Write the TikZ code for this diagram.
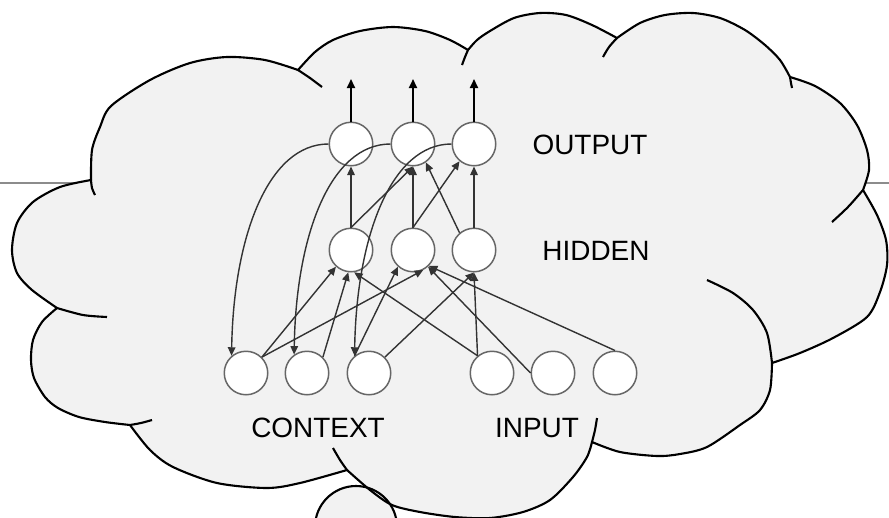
\documentclass[tikz,border=0pt]{standalone}
\usepackage{fontspec}
\setmainfont{Liberation Sans}
\usetikzlibrary{arrows.meta}
\definecolor{cloudfill}{HTML}{F2F2F2}
\definecolor{rulegray}{HTML}{8C8C8C}
\definecolor{ringgray}{HTML}{666666}
\definecolor{wiregray}{HTML}{333333}

\begin{document}
\begin{tikzpicture}[x=0.2mm, y=-0.2mm,
		neuron/.style={circle, draw=ringgray, fill=white, line width=0.85pt,
			minimum size=8.7mm, inner sep=0pt},
		wire/.style={wiregray, line width=0.8pt,
			-{Triangle[length=1.7mm,width=1.5mm]}},
		outwire/.style={black, line width=1.15pt,
			-{Triangle[length=1.8mm,width=1.6mm]}},
		layer/.style={font=\fontsize{15.9}{19}\selectfont},
		puff/.style={line width=1.2pt, line join=round}]
		\useasboundingbox (0,0) rectangle (889,517);
		\clip (0,0) rectangle (889,517);
		% rule behind the cloud
		\draw[rulegray, line width=1.1pt] (0,183) -- (889,183);
		% little bubble under the cloud
		\fill[cloudfill] (356,527) circle[radius=41];
		% cloud outline, one lobe after the other
		\filldraw[puff, fill=cloudfill]
		plot[smooth] coordinates {(91,180) (92,150) (100,127) (111,106) (150,80) (190,63) (227,57) (265,60) (298,70)}
		-- plot[smooth] coordinates {(298,70) (315,52) (333,40) (360,31) (393,27) (425,31) (450,40) (468,50)}
		-- plot[smooth] coordinates {(468,50) (477,40) (490,31) (514,18) (540,13) (566,15) (592,25) (617,38)}
		-- plot[smooth] coordinates {(617,38) (640,23) (665,15) (693,13) (720,18) (745,30) (765,45) (780,60) (790,77)}
		-- plot[smooth] coordinates {(790,77) (815,86) (840,103) (857,125) (867,150) (869,170) (863,190)}
		-- plot[smooth] coordinates {(863,190) (877,215) (886,240) (887,265) (880,292) (867,317) (833,338) (800,353) (772,363)}
		-- plot[smooth] coordinates {(772,363) (770,390) (760,410) (740,425) (707,447) (680,454) (657,456) (620,452) (592,442)}
		-- plot[smooth] coordinates {(592,442) (587,457) (573,477) (550,500) (523,512) (490,518) (455,517) (420,512) (392,505) (370,490) (347,470)}
		-- plot[smooth] coordinates {(347,470) (300,483) (267,488) (217,483) (173,467) (150,450) (130,425)}
		-- plot[smooth] coordinates {(130,425) (105,422) (79,417) (58,408) (45,397) (34,378) (31,360) (33,340) (42,322) (57,308)}
		-- plot[smooth] coordinates {(57,308) (32,290) (17,273) (12,250) (17,223) (33,202) (60,187) (91,180)}
		-- cycle;
		% inner ends of the lobes
		\draw[puff] plot[smooth] coordinates {(91,180) (92,188) (95,195)};
		\draw[puff] plot[smooth] coordinates {(298,70) (310,78) (322,87)};
		\draw[puff] plot[smooth] coordinates {(462,65) (465,57) (468,50)};
		\draw[puff] plot[smooth] coordinates {(603,57) (609,47) (617,38)};
		\draw[puff] plot[smooth] coordinates {(790,77) (791,83) (792,88)};
		\draw[puff] plot[smooth] coordinates {(863,190) (848,207) (832,222)};
		\draw[puff] plot[smooth] coordinates {(707,280) (733,293) (753,310) (767,333) (772,363)};
		\draw[puff] plot[smooth] coordinates {(597,418) (595,430) (592,442)};
		\draw[puff] plot[smooth] coordinates {(347,470) (340,460) (333,448)};
		\draw[puff] plot[smooth] coordinates {(130,425) (141,423) (152,420)};
		\draw[puff] plot[smooth] coordinates {(57,308) (83,315) (107,317)};
		\draw[puff] (356,527) circle[radius=41];

		% output layer
		\node[neuron] (o1) at (351,144) {};
		\node[neuron] (o2) at (413,144) {};
		\node[neuron] (o3) at (474,144) {};
		% hidden layer
		\node[neuron] (h1) at (351,250) {};
		\node[neuron] (h2) at (413,250) {};
		\node[neuron] (h3) at (474,250) {};
		% context units
		\node[neuron] (c1) at (246,373) {};
		\node[neuron] (c2) at (307,373) {};
		\node[neuron] (c3) at (369,373) {};
		% input units
		\node[neuron] (i1) at (492,373) {};
		\node[neuron] (i2) at (553,373) {};
		\node[neuron] (i3) at (615,373) {};

		% layer names
		\node[layer] (outname) at (590,145) {OUTPUT};
		\node[layer] (hidname) at (596,251) {HIDDEN};
		\node[layer] (ctxname) at (318,428) {CONTEXT};
		\node[layer] (inname) at (537,428) {INPUT};

		% outputs leaving the net
		\coordinate (out1) at (351,79);
		\coordinate (out2) at (413,79);
		\coordinate (out3) at (474,79);
		\draw[outwire] (o1.north) -- (out1);
		\draw[outwire] (o2.north) -- (out2);
		\draw[outwire] (o3.north) -- (out3);

		% hidden to output
		\draw[wire] (h1.north) -- (o1.south);
		\draw[wire] (h1.north) -- (o2.south);
		\draw[wire] (h2.north) -- (o2.south);
		\draw[wire] (h2.north) -- (o3.230);
		\draw[wire] (h3.130) -- (o2.305);
		\draw[wire] (h3.north) -- (o3.south);

		% context and input to hidden
		\draw[wire] (c1.45) -- (h1.228);
		\draw[wire] (c1.45) -- (h2.297);
		\draw[wire] (c2.45) -- (h1.263);
		\draw[wire] (c3.130) -- (h2.228);
		\draw[wire] (c3.45) -- (h3.south);
		\draw[wire] (i1.130) -- (h3.south);
		\draw[wire] (i1.130) -- (h1.278);
		\draw[wire] (i2.west) -- (h2.312);
		\draw[wire] (i3.north) -- (h2.315);

		% copies back into the context units
		\draw[wire] (o1.west) .. controls +(-60,0) and +(2,-120) .. (c1.130);
		\draw[wire] (o2.west) .. controls +(-60,0) and +(2,-120) .. (c2.125);
		\draw[wire] (o3.west) .. controls +(-60,0) and +(2,-120) .. (c3.130);
\end{tikzpicture}
\end{document}
